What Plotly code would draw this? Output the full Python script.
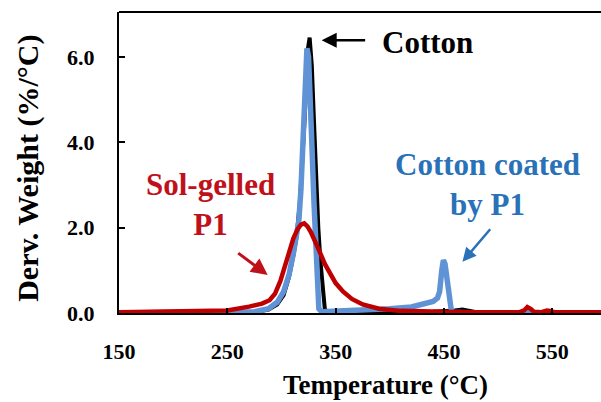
import plotly.graph_objects as go

# ---- data ----
cotton_T = [150, 200, 250, 275, 288, 296, 302, 307, 311, 314, 317, 319.5, 321.5, 323, 324.5, 326, 328, 330, 332, 334, 336, 338, 340, 342,
            360, 400, 440, 460, 467, 474, 480, 520, 560, 595]
cotton_V = [0, 0, 0, 0.02, 0.08, 0.2, 0.42, 0.85, 1.35, 1.8, 2.6, 3.6, 4.6, 5.5, 6.2, 6.45, 5.8, 4.5, 3.2, 2.0, 1.2, 0.5, 0.1, 0.02,
            0.02, 0.02, 0.03, 0.06, 0.08, 0.05, 0.02, 0.01, 0.01, 0.01]

coated_T = [150, 250, 275, 288, 296, 302, 307, 311, 314, 316, 318, 320, 321.5, 322.5, 323.5, 325, 326.5, 328, 330, 331.5, 333, 334.5, 337,
            360, 380, 400, 420, 435, 440, 444, 446, 448, 449.5, 451, 453, 455, 457, 480, 520, 560, 595]
coated_V = [0, 0, 0.03, 0.1, 0.25, 0.5, 0.9, 1.4, 1.8, 2.15, 2.9, 4.0, 5.0, 5.8, 6.2, 6.0, 5.2, 4.0, 2.6, 1.5, 0.5, 0.1, 0.03,
            0.05, 0.07, 0.1, 0.14, 0.22, 0.27, 0.35, 0.5, 1.0, 1.24, 1.15, 0.7, 0.2, 0.02, 0.0, 0.0, 0.0, 0.0]

solgel_T = [150, 200, 250, 270, 282, 289, 294, 299, 303, 307, 311, 315, 318, 321, 324, 327, 331, 335, 340, 345, 350, 357, 365, 375, 390,
            410, 440, 470, 500, 520, 524, 527, 530, 533, 540, 545, 548, 552, 595]
solgel_V = [0.02, 0.03, 0.06, 0.15, 0.22, 0.3, 0.45, 0.75, 1.1, 1.45, 1.75, 1.97, 2.07, 2.1, 2.03, 1.9, 1.7, 1.45, 1.15, 0.9, 0.7, 0.5, 0.33, 0.2, 0.1,
            0.05, 0.03, 0.02, 0.02, 0.02, 0.06, 0.14, 0.1, 0.03, 0.02, 0.06, 0.05, 0.02, 0.02]

x_ticks = [150, 250, 350, 450, 550]
y_ticks = [0, 2, 4, 6]
y_tick_text = ["0.0", "2.0", "4.0", "6.0"]

BLUE_LINE = "#5f93d6"
RED_LINE = "#c00000"
BLUE_TEXT = "#2a72b8"
RED_TEXT = "#c0111a"
FONT = "Liberation Serif, Times New Roman, serif"

fig = go.Figure()
fig.add_trace(go.Scatter(x=cotton_T, y=cotton_V, mode="lines", line=dict(color="black", width=4), name="Cotton"))
fig.add_trace(go.Scatter(x=coated_T, y=coated_V, mode="lines", line=dict(color=BLUE_LINE, width=5.5), name="Cotton coated by P1"))
fig.add_trace(go.Scatter(x=solgel_T, y=solgel_V, mode="lines", line=dict(color=RED_LINE, width=4.5), name="Sol-gelled P1"))

fig.update_layout(
    width=601, height=402,
    margin=dict(l=119, r=0, t=12, b=89),
    paper_bgcolor="white", plot_bgcolor="white",
    showlegend=False,
    font=dict(family=FONT, color="black"),
)
fig.update_xaxes(
    range=[150, 595], tickvals=x_ticks, ticks="inside", ticklen=5, tickwidth=1.5, tickcolor="black",
    showline=True, linecolor="black", linewidth=2, showgrid=False, zeroline=False,
    tickfont=dict(family=FONT, size=22, color="black", weight="bold"), ticklabelstandoff=18,
)
fig.update_yaxes(
    range=[0, 7.05], tickvals=y_ticks, ticktext=y_tick_text, ticks="inside", ticklen=6, tickwidth=1.5, tickcolor="black",
    showline=True, linecolor="black", linewidth=2, showgrid=False, zeroline=False,
    tickfont=dict(family=FONT, size=22, color="black", weight="bold"), ticklabelstandoff=18,
)
# top border
fig.add_shape(type="line", xref="paper", yref="paper", x0=0, x1=1, y0=1, y1=1, line=dict(color="black", width=2))

# axis titles
fig.add_annotation(xref="paper", yref="paper", x=0.552, y=-0.239, text="<b>Temperature (°C)</b>", showarrow=False,
                   xanchor="center", yanchor="middle", font=dict(family=FONT, size=27, color="black"))
fig.add_annotation(xref="paper", yref="paper", x=-0.189, y=0.482, text="<b>Derv. Weight (%/°C)</b>", showarrow=False,
                   textangle=-90, xanchor="center", yanchor="middle", font=dict(family=FONT, size=30, color="black"))

# text labels
fig.add_annotation(x=434.8, y=6.34, text="<b>Cotton</b>", showarrow=False,
                   font=dict(family=FONT, size=31, color="black"))
fig.add_annotation(x=234.8, y=2.54, text="<b>Sol-gelled<br>P1</b>", showarrow=False,
                   font=dict(family=FONT, size=31, color=RED_TEXT))
fig.add_annotation(x=490, y=3.0, text="<b>Cotton coated<br>by P1</b>", showarrow=False,
                   font=dict(family=FONT, size=31, color=BLUE_TEXT))
# arrows
fig.add_annotation(x=337.1, y=6.39, ax=45, ay=0, text="", showarrow=True, arrowhead=2, arrowsize=1.2,
                   arrowwidth=2.5, arrowcolor="black")
fig.add_annotation(x=287.3, y=0.89, ax=-31, ay=-23, text="", showarrow=True, arrowhead=2, arrowsize=1.1,
                   arrowwidth=3, arrowcolor=RED_TEXT)
fig.add_annotation(x=467.1, y=1.2, ax=29, ay=-34, text="", showarrow=True, arrowhead=2, arrowsize=1.1,
                   arrowwidth=2.5, arrowcolor=BLUE_TEXT)

fig.write_html("out.html")
